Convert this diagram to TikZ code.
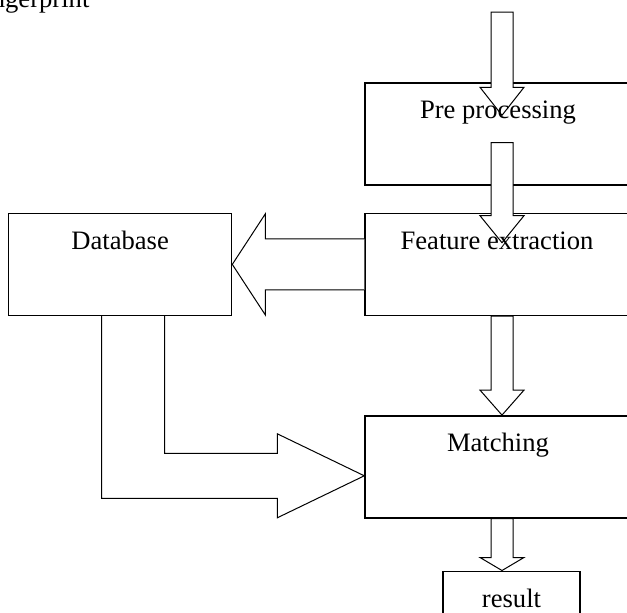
\documentclass[tikz,border=0pt]{standalone}
\usepackage{fontspec}
\setmainfont{Liberation Serif}
\usetikzlibrary{positioning,calc}

\tikzset{mybox/.style={
  shape=rectangle,
  draw=black,
  line width=1.4pt,
  minimum width=266pt,
  minimum height=102pt,
  inner sep=0pt,
  }
}
\tikzset{myarrow/.style={
  draw=black,
  fill=white,
  line width=1pt,
  line join=miter,
  }
}
\tikzset{mytext/.style={
  anchor=base,
  inner sep=0pt,
  font=\fontsize{26.6}{32}\selectfont,
  }
}

% block arrow going down from (#1) to its tip (#2), head #3 long
\newcommand{\vblock}[3]{%
  \draw[myarrow] ($(#1)+(-11,0)$) -- ($(#2)+(-11,-#3)$) -- ($(#2)+(-22,-#3)$) -- (#2)
    -- ($(#2)+(22,-#3)$) -- ($(#2)+(11,-#3)$) -- ($(#1)+(11,0)$) -- cycle;}

\begin{document}
\begin{tikzpicture}[x=1pt,y=-1pt]
  \useasboundingbox (0,0) rectangle (627,613);
  \clip (0,0) rectangle (627,613);

  \node[mybox] (pre) at (498,134) {};
  \node[mybox, below=27pt of pre] (feat) {};
  \node[mybox, below=99pt of feat] (match) {};
  \node[mybox, minimum width=223pt, left=132pt of feat] (db) {};
  \node[mybox, minimum width=137pt, minimum height=60pt, below=52pt of match, xshift=13.5pt] (res) {};

  \coordinate (in) at (502,12);
  \coordinate (t1) at ($(pre.north)+(4,33)$);
  \coordinate (s2) at ($(pre.south)+(4,-43)$);
  \coordinate (t2) at ($(feat.north)+(4,30)$);
  \coordinate (s3) at ($(feat.south)+(4,0)$);
  \coordinate (t3) at ($(match.north)+(4,0)$);
  \coordinate (s4) at ($(match.south)+(4,0)$);
  \coordinate (t4) at ($(res.north)+(-9.5,0)$);

  \vblock{in}{t1}{28}
  \vblock{s2}{t2}{27}
  \vblock{s3}{t3}{25}
  \vblock{s4}{t4}{13}

  % features go to the database
  \draw[myarrow] ($(feat.west)+(0,-25.5)$) -- ($(db.east)+(33,-25.5)$) -- ($(db.east)+(33,-50.5)$)
    -- (db.east) -- ($(db.east)+(33,50.5)$) -- ($(db.east)+(33,25.5)$) -- ($(feat.west)+(0,25.5)$);

  % database feeds the matcher
  \coordinate (dbout) at ($(db.south)+(13,0)$);
  \coordinate (tip) at ($(match.west)+(0,9)$);
  \draw[myarrow, fill=none] ($(dbout)+(-31.5,0)$) |- ($(tip)+(-87,22.5)$) -- ($(tip)+(-87,42)$)
    -- (tip) -- ($(tip)+(-87,-42)$) -- ($(tip)+(-87,-22.5)$) -| ($(dbout)+(31.5,0)$);

  \node[mytext] (tpre) at ($(pre.north)+(0,36.5)$) {Pre processing};
  \node[mytext] (tfeat) at ($(feat.north)+(-1,36.5)$) {Feature extraction};
  \node[mytext] (tdb) at ($(db.north)+(0,36.5)$) {Database};
  \node[mytext] (tmatch) at ($(match.north)+(0,36.5)$) {Matching};
  \node[mytext] (tres) at ($(res.north)+(0,36.5)$) {result};
  \node[mytext, anchor=base west] (tin) at (-30.5,7) {Fingerprint};
\end{tikzpicture}
\end{document}
